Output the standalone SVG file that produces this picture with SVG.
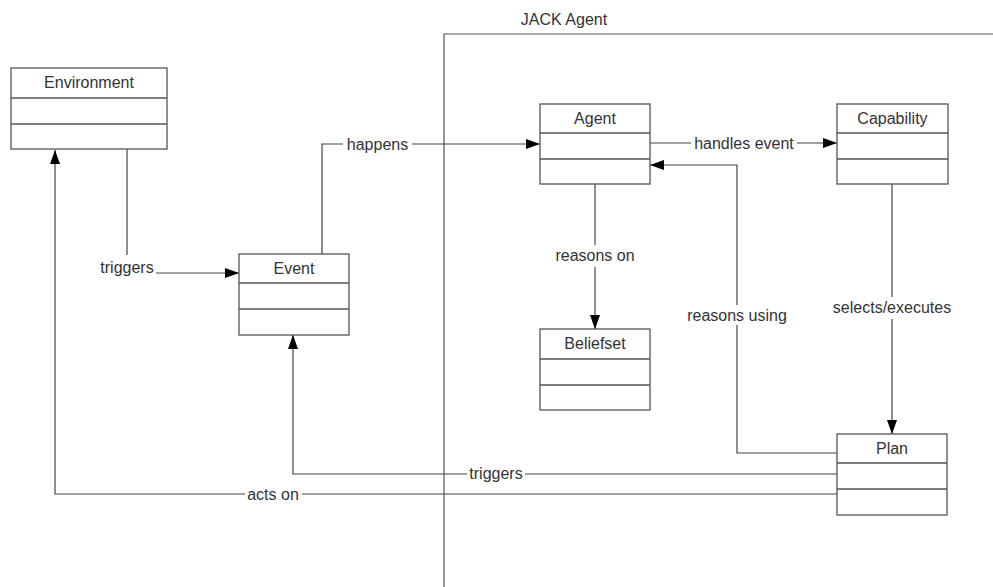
<svg xmlns="http://www.w3.org/2000/svg" width="993" height="587" viewBox="0 0 993 587">
<defs>
<marker id="arr" markerUnits="userSpaceOnUse" markerWidth="15" markerHeight="11" refX="14" refY="5" orient="auto">
<path d="M0,0 L14,5 L0,10 z" fill="#000"/>
</marker>
<style>
.box{fill:#fff;stroke:#555;stroke-width:1.3}
.div{stroke:#555;stroke-width:1.3}
.t{font-family:"Liberation Sans",Arial,sans-serif;font-size:16px;fill:#333;text-anchor:middle}
.c{fill:none;stroke:#444;stroke-width:1.2}
.bg{fill:#fff}
.frame{fill:none;stroke:#555;stroke-width:1.2}
</style>
</defs>
<rect width="993" height="587" fill="#fff"/>
<g id="jack-frame">
<path class="frame" d="M444,587 V34 H993"/>
<text class="t" x="564" y="25">JACK Agent</text>
</g>
<g id="connectors">
<path class="c" d="M322,254 V144 H540" marker-end="url(#arr)"/>
<path class="c" d="M650,143 H837" marker-end="url(#arr)"/>
<path class="c" d="M595,184 V329" marker-end="url(#arr)"/>
<path class="c" d="M837,453 H737 V165 H650" marker-end="url(#arr)"/>
<path class="c" d="M892,184 V434" marker-end="url(#arr)"/>
<path class="c" d="M127,149 V273 H239" marker-end="url(#arr)"/>
<path class="c" d="M837,474 H293 V335" marker-end="url(#arr)"/>
<path class="c" d="M837,494 H55 V150" marker-end="url(#arr)"/>
<rect class="bg" x="343" y="135" width="69" height="18"/>
<text class="t" x="377.5" y="149.5">happens</text>
<rect class="bg" x="691" y="134" width="106" height="18"/>
<text class="t" x="744" y="149">handles event</text>
<rect class="bg" x="553" y="245" width="84" height="22"/>
<text class="t" x="595" y="261">reasons on</text>
<rect class="bg" x="684" y="305" width="106" height="20"/>
<text class="t" x="737" y="320.5">reasons using</text>
<rect class="bg" x="830" y="297" width="124" height="22"/>
<text class="t" x="892" y="313">selects/executes</text>
<rect class="bg" x="98" y="255" width="58" height="24"/>
<text class="t" x="127" y="272.5">triggers</text>
<rect class="bg" x="467" y="465" width="58" height="18"/>
<text class="t" x="496" y="479">triggers</text>
<rect class="bg" x="245" y="485" width="57" height="18"/>
<text class="t" x="273" y="499.5">acts on</text>
</g>
<g id="environment">
<rect class="box" x="11" y="68" width="156" height="81"/>
<path class="div" d="M11,98 H167 M11,124 H167"/>
<text class="t" x="89" y="88">Environment</text>
</g>
<g id="event">
<rect class="box" x="239" y="254" width="110" height="81"/>
<path class="div" d="M239,283 H349 M239,309 H349"/>
<text class="t" x="294" y="274">Event</text>
</g>
<g id="agent">
<rect class="box" x="540" y="104" width="110" height="80"/>
<path class="div" d="M540,133 H650 M540,159 H650"/>
<text class="t" x="595" y="124">Agent</text>
</g>
<g id="capability">
<rect class="box" x="837" y="104" width="111" height="80"/>
<path class="div" d="M837,133 H948 M837,159 H948"/>
<text class="t" x="892.5" y="124">Capability</text>
</g>
<g id="beliefset">
<rect class="box" x="540" y="329" width="110" height="81"/>
<path class="div" d="M540,359 H650 M540,385 H650"/>
<text class="t" x="595" y="349">Beliefset</text>
</g>
<g id="plan">
<rect class="box" x="837" y="434" width="110" height="81"/>
<path class="div" d="M837,463 H947 M837,489 H947"/>
<text class="t" x="892" y="454">Plan</text>
</g>
</svg>
